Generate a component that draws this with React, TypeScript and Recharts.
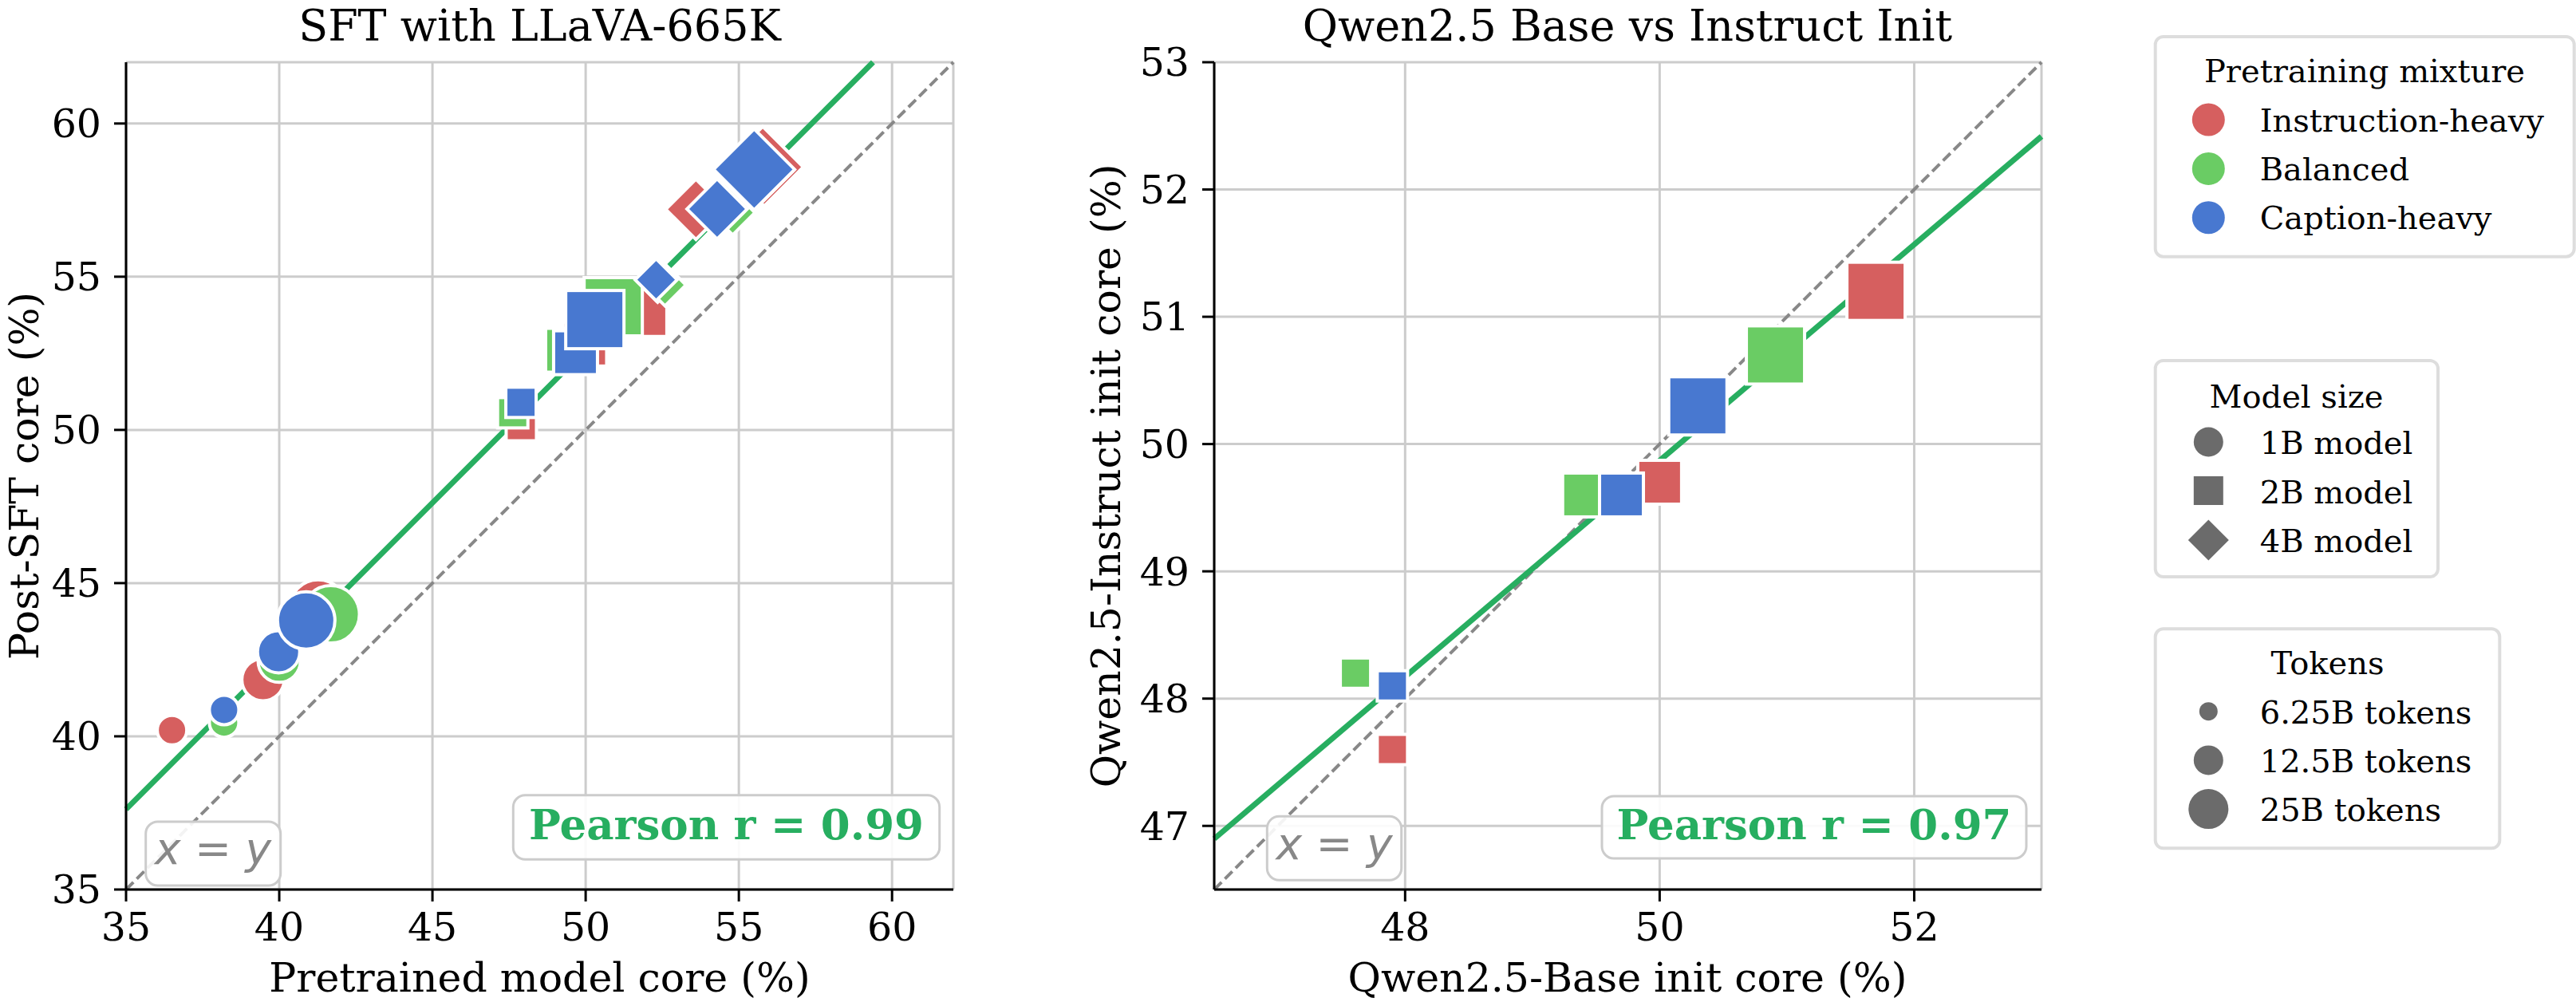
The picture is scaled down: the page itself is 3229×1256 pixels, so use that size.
import { ScatterChart, Scatter, XAxis, YAxis, CartesianGrid, ReferenceLine } from 'recharts';

// ---- categories ----
const MIXTURES = ['Instruction-heavy', 'Balanced', 'Caption-heavy'];
const MODEL_SIZES = ['1B model', '2B model', '4B model'];
const TOKEN_BUDGETS = ['6.25B tokens', '12.5B tokens', '25B tokens'];

// ---- left panel: pretrained core vs post-SFT core (%) ----
const sftInstruction = [
  { pre: 36.5, post: 40.2, model: '1B', tokens: '6.25B' },
  { pre: 39.47, post: 41.85, model: '1B', tokens: '12.5B' },
  { pre: 41.27, post: 44.17, model: '1B', tokens: '25B' },
  { pre: 47.9, post: 50.14, model: '2B', tokens: '6.25B' },
  { pre: 49.97, post: 52.8, model: '2B', tokens: '12.5B' },
  { pre: 51.7, post: 54.0, model: '2B', tokens: '25B' },
  { pre: 52.35, post: 54.85, model: '4B', tokens: '6.25B' },
  { pre: 53.6, post: 57.2, model: '4B', tokens: '12.5B' },
  { pre: 55.78, post: 58.58, model: '4B', tokens: '25B' },
];
const sftBalanced = [
  { pre: 38.2, post: 40.45, model: '1B', tokens: '6.25B' },
  { pre: 40.0, post: 42.45, model: '1B', tokens: '12.5B' },
  { pre: 41.68, post: 43.98, model: '1B', tokens: '25B' },
  { pre: 47.62, post: 50.56, model: '2B', tokens: '6.25B' },
  { pre: 49.41, post: 52.6, model: '2B', tokens: '12.5B' },
  { pre: 50.9, post: 54.02, model: '2B', tokens: '25B' },
  { pre: 52.59, post: 54.73, model: '4B', tokens: '6.25B' },
  { pre: 54.8, post: 57.35, model: '4B', tokens: '12.5B' },
  { pre: 55.47, post: 58.47, model: '4B', tokens: '25B' },
];
const sftCaption = [
  { pre: 38.2, post: 40.86, model: '1B', tokens: '6.25B' },
  { pre: 39.98, post: 42.76, model: '1B', tokens: '12.5B' },
  { pre: 40.88, post: 43.78, model: '1B', tokens: '25B' },
  { pre: 47.89, post: 50.9, model: '2B', tokens: '6.25B' },
  { pre: 49.67, post: 52.52, model: '2B', tokens: '12.5B' },
  { pre: 50.3, post: 53.6, model: '2B', tokens: '25B' },
  { pre: 52.3, post: 54.9, model: '4B', tokens: '6.25B' },
  { pre: 54.29, post: 57.21, model: '4B', tokens: '12.5B' },
  { pre: 55.5, post: 58.5, model: '4B', tokens: '25B' },
];

// ---- right panel: Qwen2.5 base init vs instruct init (%), 2B models ----
const qwenInstruction = [
  { base: 47.9, inst: 47.6, model: '2B', tokens: '6.25B' },
  { base: 50.0, inst: 49.7, model: '2B', tokens: '12.5B' },
  { base: 51.7, inst: 51.2, model: '2B', tokens: '25B' },
];
const qwenBalanced = [
  { base: 47.61, inst: 48.2, model: '2B', tokens: '6.25B' },
  { base: 49.41, inst: 49.6, model: '2B', tokens: '12.5B' },
  { base: 50.91, inst: 50.7, model: '2B', tokens: '25B' },
];
const qwenCaption = [
  { base: 47.9, inst: 48.1, model: '2B', tokens: '6.25B' },
  { base: 49.7, inst: 49.6, model: '2B', tokens: '12.5B' },
  { base: 50.3, inst: 50.3, model: '2B', tokens: '25B' },
];

const SFT_TICKS = [35, 40, 45, 50, 55, 60];
const QWEN_X_TICKS = [48, 50, 52];
const QWEN_Y_TICKS = [47, 48, 49, 50, 51, 52, 53];

const SFT_DOMAIN = [35, 62];
const QWEN_DOMAIN = [46.5, 53];

const SFT_FIT = { slope: 1.0, intercept: 2.62, r: '0.99' };
const QWEN_FIT = { slope: 0.849, intercept: 7.42, r: '0.97' };

// ---- styles ----
const COLORS = ['#d65f5f', '#6acc64', '#4878d0'];
const FIT_GREEN = '#27ae60';
const LEGEND_GRAY = '#6b6b6b';
const SERIF = 'DejaVu Serif';
const TOKEN_IDX: Record<string, number> = { '6.25B': 0, '12.5B': 1, '25B': 2 };
const CIRCLE_D = [33, 49, 68];
const SQUARE_S = [34, 51, 69];
const DIAMOND_H = [23.5, 35, 48];
const EDGE = 4;

function Marker(props: any) {
  const { cx, cy, payload, color } = props;
  if (cx == null || cy == null) return null;
  const k = TOKEN_IDX[payload.tokens];
  const common = { fill: color, stroke: '#ffffff', strokeWidth: EDGE };
  if (payload.model === '1B') {
    return <circle cx={cx} cy={cy} r={CIRCLE_D[k] / 2 + EDGE / 2} {...common} />;
  }
  if (payload.model === '2B') {
    const s = SQUARE_S[k] + EDGE;
    return <rect x={cx - s / 2} y={cy - s / 2} width={s} height={s} {...common} />;
  }
  const h = DIAMOND_H[k] + EDGE * 0.7;
  return <polygon points={`${cx},${cy - h} ${cx + h},${cy} ${cx},${cy + h} ${cx - h},${cy}`} {...common} />;
}

// clip the fitted line to the square plotting domain
function fitSegment(fit: { slope: number; intercept: number }, dom: number[]) {
  const [lo, hi] = dom;
  const f = (x: number) => fit.slope * x + fit.intercept;
  const inv = (y: number) => (y - fit.intercept) / fit.slope;
  let x0 = lo, y0 = f(lo);
  if (y0 < lo) { x0 = inv(lo); y0 = lo; }
  let x1 = hi, y1 = f(hi);
  if (y1 > hi) { x1 = inv(hi); y1 = hi; }
  return [{ x: x0, y: y0 }, { x: x1, y: y1 }];
}

const tickStyle = { fontSize: 49, fill: '#000', fontFamily: SERIF };
const axisStroke = { stroke: '#000', strokeWidth: 3 };

function Panel(props: any) {
  const { series, xKey, yKey, domain, xTicks, yTicks, fit, width, left, right } = props;
  return (
    <ScatterChart width={width} height={1256} margin={{ top: 78, right, bottom: 41, left }}>
      <CartesianGrid stroke="#cccccc" strokeWidth={3} />
      <XAxis type="number" dataKey={xKey} domain={domain} ticks={xTicks} interval={0} allowDataOverflow
        height={100} tickSize={15} tickMargin={14} axisLine={axisStroke} tickLine={axisStroke} tick={tickStyle} />
      <YAxis type="number" dataKey={yKey} domain={domain} ticks={yTicks} interval={0} allowDataOverflow
        width={100} tickSize={15} tickMargin={16} axisLine={axisStroke} tickLine={axisStroke} tick={tickStyle} />
      <ReferenceLine segment={[{ x: domain[0], y: domain[0] }, { x: domain[1], y: domain[1] }]}
        stroke="#888888" strokeWidth={4} strokeDasharray="13 6" ifOverflow="visible" />
      <ReferenceLine segment={fitSegment(fit, domain)} stroke={FIT_GREEN} strokeWidth={7} ifOverflow="visible" />
      {series.map((data: any[], i: number) => (
        <Scatter key={MIXTURES[i]} name={MIXTURES[i]} data={data} isAnimationActive={false}
          shape={(p: any) => <Marker {...p} color={COLORS[i]} />} />
      ))}
    </ScatterChart>
  );
}

function NoteBox({ x, y, w, h }: { x: number; y: number; w: number; h: number }) {
  return <rect x={x} y={y} width={w} height={h} rx={15} fill="#ffffff" fillOpacity={0.9} stroke="#cccccc" strokeWidth={3} />;
}

function LegendBox({ x, y, w, h }: { x: number; y: number; w: number; h: number }) {
  return <rect x={x} y={y} width={w} height={h} rx={10} fill="#ffffff" stroke="#dddddd" strokeWidth={4} />;
}

function Overlay() {
  const rowText = { fontSize: 40, fontFamily: SERIF, fill: '#000' };
  return (
    <svg width={3229} height={1256} style={{ position: 'absolute', left: 0, top: 0, pointerEvents: 'none' }}>
      {/* titles */}
      <text x={676.5} y={51} textAnchor="middle" fontSize={54} fontFamily={SERIF}>SFT with LLaVA-665K</text>
      <text x={2040} y={51} textAnchor="middle" fontSize={54} fontFamily={SERIF}>Qwen2.5 Base vs Instruct Init</text>
      {/* axis labels */}
      <text x={676.5} y={1243} textAnchor="middle" fontSize={50.5} fontFamily={SERIF}>Pretrained model core (%)</text>
      <text x={2040} y={1243} textAnchor="middle" fontSize={50.5} fontFamily={SERIF}>Qwen2.5-Base init core (%)</text>
      <text transform="translate(48,596.5) rotate(-90)" textAnchor="middle" fontSize={50.5} fontFamily={SERIF}>Post-SFT core (%)</text>
      <text transform="translate(1404,596.5) rotate(-90)" textAnchor="middle" fontSize={50.5} fontFamily={SERIF}>Qwen2.5-Instruct init core (%)</text>

      {/* annotations, left */}
      <NoteBox x={182.7} y={1030} w={169} h={80} />
      <text x={267} y={1083} textAnchor="middle" fontSize={55} fontFamily="DejaVu Sans" fill="#888888">
        <tspan fontStyle="italic">x</tspan> = <tspan fontStyle="italic">y</tspan>
      </text>
      <NoteBox x={643.3} y={996.7} w={534.4} h={80.6} />
      <text x={910.5} y={1051.7} textAnchor="middle" fontSize={53} fontWeight="bold" fontFamily={SERIF} fill={FIT_GREEN}>
        {`Pearson r = ${SFT_FIT.r}`}
      </text>

      {/* annotations, right */}
      <NoteBox x={1588.3} y={1023.3} w={168.4} h={80} />
      <text x={1672.5} y={1076.5} textAnchor="middle" fontSize={55} fontFamily="DejaVu Sans" fill="#888888">
        <tspan fontStyle="italic">x</tspan> = <tspan fontStyle="italic">y</tspan>
      </text>
      <NoteBox x={2008} y={998} w={532} h={78} />
      <text x={2274} y={1052} textAnchor="middle" fontSize={53} fontWeight="bold" fontFamily={SERIF} fill={FIT_GREEN}>
        {`Pearson r = ${QWEN_FIT.r}`}
      </text>

      {/* legend: pretraining mixture */}
      <LegendBox x={2701.7} y={46} w={525} h={275.7} />
      <text x={2964} y={102.7} textAnchor="middle" {...rowText}>Pretraining mixture</text>
      {MIXTURES.map((m, i) => (
        <g key={m}>
          <circle cx={2768.3} cy={150 + i * 61.4} r={20.5} fill={COLORS[i]} />
          <text x={2832.7} y={165 + i * 61.2} {...rowText}>{m}</text>
        </g>
      ))}

      {/* legend: model size */}
      <LegendBox x={2701.7} y={452} w={354.3} h={271} />
      <text x={2878.5} y={510.7} textAnchor="middle" {...rowText}>Model size</text>
      <circle cx={2768.3} cy={554} r={18.5} fill={LEGEND_GRAY} />
      <rect x={2768.3 - 18.5} y={615 - 18} width={37} height={36} fill={LEGEND_GRAY} />
      <polygon points={`2768.3,${677 - 25.5} ${2768.3 + 25.5},677 2768.3,${677 + 25.5} ${2768.3 - 25.5},677`} fill={LEGEND_GRAY} />
      {MODEL_SIZES.map((m, i) => (
        <text key={m} x={2832.7} y={569 + i * 61.5} {...rowText}>{m}</text>
      ))}

      {/* legend: tokens */}
      <LegendBox x={2701.7} y={788.3} w={431.6} h={275} />
      <text x={2917.5} y={845} textAnchor="middle" {...rowText}>Tokens</text>
      {TOKEN_BUDGETS.map((t, i) => (
        <g key={t}>
          <circle cx={2768.3} cy={891.7 + i * 61.2} r={[11.5, 18.5, 25][i]} fill={LEGEND_GRAY} />
          <text x={2832.7} y={906.7 + i * 61.3} {...rowText}>{t}</text>
        </g>
      ))}
    </svg>
  );
}

export default function App() {
  return (
    <div style={{ position: 'absolute', left: 0, top: 0, width: 3229, height: 1256, background: '#fff' }}>
      <div style={{ position: 'absolute', left: 0, top: 0 }}>
        <Panel series={[sftInstruction, sftBalanced, sftCaption]} xKey="pre" yKey="post" domain={SFT_DOMAIN}
          xTicks={SFT_TICKS} yTicks={SFT_TICKS} fit={SFT_FIT} width={1230} left={58} right={35} />
      </div>
      <div style={{ position: 'absolute', left: 1300, top: 0 }}>
        <Panel series={[qwenInstruction, qwenBalanced, qwenCaption]} xKey="base" yKey="inst" domain={QWEN_DOMAIN}
          xTicks={QWEN_X_TICKS} yTicks={QWEN_Y_TICKS} fit={QWEN_FIT} width={1300} left={122} right={41} />
      </div>
      <Overlay />
    </div>
  );
}
